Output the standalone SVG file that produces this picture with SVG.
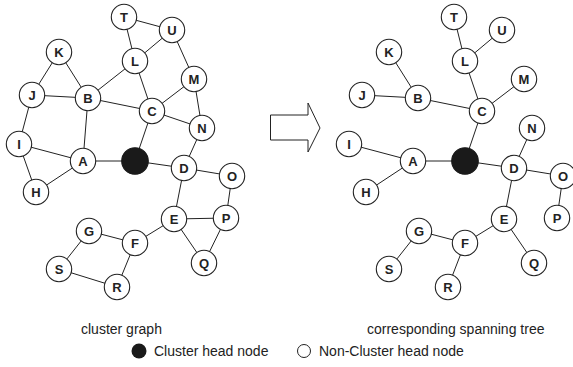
<svg xmlns="http://www.w3.org/2000/svg" width="573" height="367" viewBox="0 0 573 367">
<style>
.e line{stroke:#222;stroke-width:1}
.n circle{fill:#fff;stroke:#222;stroke-width:1.1}
.n circle.h{fill:#1a1a1a;stroke:#1a1a1a}
.n text{font-family:"Liberation Sans",Arial,sans-serif;font-weight:bold;font-size:13px;fill:#222;text-anchor:middle;dominant-baseline:central}
.lbl{font-family:"Liberation Sans",Arial,sans-serif;font-size:14px;fill:#222}
</style>
<rect width="573" height="367" fill="#fff"/>
<g id="edges-left" class="e">
<line x1="124" y1="17" x2="172" y2="30"/>
<line x1="124" y1="17" x2="135" y2="61"/>
<line x1="135" y1="61" x2="172" y2="30"/>
<line x1="172" y1="30" x2="194" y2="79"/>
<line x1="59" y1="52" x2="32" y2="95"/>
<line x1="59" y1="52" x2="88" y2="98"/>
<line x1="32" y1="95" x2="88" y2="98"/>
<line x1="32" y1="95" x2="19" y2="144"/>
<line x1="135" y1="61" x2="88" y2="98"/>
<line x1="135" y1="61" x2="152" y2="111"/>
<line x1="88" y1="98" x2="152" y2="111"/>
<line x1="88" y1="98" x2="83" y2="161"/>
<line x1="152" y1="111" x2="194" y2="79"/>
<line x1="152" y1="111" x2="202" y2="128"/>
<line x1="194" y1="79" x2="202" y2="128"/>
<line x1="152" y1="111" x2="135" y2="161"/>
<line x1="19" y1="144" x2="83" y2="161"/>
<line x1="19" y1="144" x2="36" y2="192"/>
<line x1="36" y1="192" x2="83" y2="161"/>
<line x1="83" y1="161" x2="135" y2="161"/>
<line x1="135" y1="161" x2="184" y2="168"/>
<line x1="202" y1="128" x2="184" y2="168"/>
<line x1="184" y1="168" x2="232" y2="176"/>
<line x1="184" y1="168" x2="174" y2="219"/>
<line x1="232" y1="176" x2="226" y2="218"/>
<line x1="174" y1="219" x2="226" y2="218"/>
<line x1="174" y1="219" x2="204" y2="263"/>
<line x1="226" y1="218" x2="204" y2="263"/>
<line x1="174" y1="219" x2="135" y2="243"/>
<line x1="135" y1="243" x2="89" y2="231"/>
<line x1="89" y1="231" x2="59" y2="269"/>
<line x1="59" y1="269" x2="117" y2="287"/>
<line x1="135" y1="243" x2="117" y2="287"/>
</g>
<g id="edges-right" class="e" transform="translate(330,0)">
<line x1="124" y1="17" x2="135" y2="61"/>
<line x1="135" y1="61" x2="172" y2="30"/>
<line x1="59" y1="52" x2="88" y2="98"/>
<line x1="32" y1="95" x2="88" y2="98"/>
<line x1="135" y1="61" x2="152" y2="111"/>
<line x1="88" y1="98" x2="152" y2="111"/>
<line x1="152" y1="111" x2="194" y2="79"/>
<line x1="152" y1="111" x2="135" y2="161"/>
<line x1="19" y1="144" x2="83" y2="161"/>
<line x1="36" y1="192" x2="83" y2="161"/>
<line x1="83" y1="161" x2="135" y2="161"/>
<line x1="135" y1="161" x2="184" y2="168"/>
<line x1="202" y1="128" x2="184" y2="168"/>
<line x1="184" y1="168" x2="233" y2="176"/>
<line x1="233" y1="176" x2="227" y2="218"/>
<line x1="184" y1="168" x2="174" y2="219"/>
<line x1="174" y1="219" x2="204" y2="263"/>
<line x1="174" y1="219" x2="135" y2="243"/>
<line x1="135" y1="243" x2="89" y2="231"/>
<line x1="89" y1="231" x2="59" y2="269"/>
<line x1="135" y1="243" x2="118" y2="287"/>
</g>
<g id="nodes-left" class="n">
<g id="L-T"><circle cx="124" cy="17" r="12.7"/><text x="124" y="17">T</text></g>
<g id="L-U"><circle cx="172" cy="30" r="12.7"/><text x="172" y="30">U</text></g>
<g id="L-K"><circle cx="59" cy="52" r="12.7"/><text x="59" y="52">K</text></g>
<g id="L-L"><circle cx="135" cy="61" r="12.7"/><text x="135" y="61">L</text></g>
<g id="L-M"><circle cx="194" cy="79" r="12.7"/><text x="194" y="79">M</text></g>
<g id="L-J"><circle cx="32" cy="95" r="12.7"/><text x="32" y="95">J</text></g>
<g id="L-B"><circle cx="88" cy="98" r="12.7"/><text x="88" y="98">B</text></g>
<g id="L-C"><circle cx="152" cy="111" r="12.7"/><text x="152" y="111">C</text></g>
<g id="L-N"><circle cx="202" cy="128" r="12.7"/><text x="202" y="128">N</text></g>
<g id="L-I"><circle cx="19" cy="144" r="12.7"/><text x="19" y="144">I</text></g>
<g id="L-A"><circle cx="83" cy="161" r="12.7"/><text x="83" y="161">A</text></g>
<g id="L-head"><circle class="h" cx="135" cy="161" r="13.3"/></g>
<g id="L-D"><circle cx="184" cy="168" r="12.7"/><text x="184" y="168">D</text></g>
<g id="L-O"><circle cx="232" cy="176" r="12.7"/><text x="232" y="176">O</text></g>
<g id="L-H"><circle cx="36" cy="192" r="12.7"/><text x="36" y="192">H</text></g>
<g id="L-E"><circle cx="174" cy="219" r="12.7"/><text x="174" y="219">E</text></g>
<g id="L-P"><circle cx="226" cy="218" r="12.7"/><text x="226" y="218">P</text></g>
<g id="L-G"><circle cx="89" cy="231" r="12.7"/><text x="89" y="231">G</text></g>
<g id="L-F"><circle cx="135" cy="243" r="12.7"/><text x="135" y="243">F</text></g>
<g id="L-S"><circle cx="59" cy="269" r="12.7"/><text x="59" y="269">S</text></g>
<g id="L-Q"><circle cx="204" cy="263" r="12.7"/><text x="204" y="263">Q</text></g>
<g id="L-R"><circle cx="117" cy="287" r="12.7"/><text x="117" y="287">R</text></g>
</g>
<g id="nodes-right" class="n" transform="translate(330,0)">
<g id="R-T"><circle cx="124" cy="17" r="12.7"/><text x="124" y="17">T</text></g>
<g id="R-U"><circle cx="172" cy="30" r="12.7"/><text x="172" y="30">U</text></g>
<g id="R-K"><circle cx="59" cy="52" r="12.7"/><text x="59" y="52">K</text></g>
<g id="R-L"><circle cx="135" cy="61" r="12.7"/><text x="135" y="61">L</text></g>
<g id="R-M"><circle cx="194" cy="79" r="12.7"/><text x="194" y="79">M</text></g>
<g id="R-J"><circle cx="32" cy="95" r="12.7"/><text x="32" y="95">J</text></g>
<g id="R-B"><circle cx="88" cy="98" r="12.7"/><text x="88" y="98">B</text></g>
<g id="R-C"><circle cx="152" cy="111" r="12.7"/><text x="152" y="111">C</text></g>
<g id="R-N"><circle cx="202" cy="128" r="12.7"/><text x="202" y="128">N</text></g>
<g id="R-I"><circle cx="19" cy="144" r="12.7"/><text x="19" y="144">I</text></g>
<g id="R-A"><circle cx="83" cy="161" r="12.7"/><text x="83" y="161">A</text></g>
<g id="R-head"><circle class="h" cx="135" cy="161" r="13.3"/></g>
<g id="R-D"><circle cx="184" cy="168" r="12.7"/><text x="184" y="168">D</text></g>
<g id="R-O"><circle cx="233" cy="176" r="12.7"/><text x="233" y="176">O</text></g>
<g id="R-H"><circle cx="36" cy="192" r="12.7"/><text x="36" y="192">H</text></g>
<g id="R-E"><circle cx="174" cy="219" r="12.7"/><text x="174" y="219">E</text></g>
<g id="R-P"><circle cx="227" cy="218" r="12.7"/><text x="227" y="218">P</text></g>
<g id="R-G"><circle cx="89" cy="231" r="12.7"/><text x="89" y="231">G</text></g>
<g id="R-F"><circle cx="135" cy="243" r="12.7"/><text x="135" y="243">F</text></g>
<g id="R-S"><circle cx="59" cy="269" r="12.7"/><text x="59" y="269">S</text></g>
<g id="R-Q"><circle cx="204" cy="263" r="12.7"/><text x="204" y="263">Q</text></g>
<g id="R-R"><circle cx="118" cy="287" r="12.7"/><text x="118" y="287">R</text></g>
</g>
<g id="arrow"><polygon points="270.5,115 308,115 308,103 320,128 308,152 308,140 270.5,140" fill="#fff" stroke="#222" stroke-width="1"/></g>
<g id="captions">
<text class="lbl" x="81" y="334">cluster graph</text>
<text class="lbl" x="367" y="334">corresponding spanning tree</text>
</g>
<g id="legend">
<circle cx="139" cy="351" r="7.5" fill="#1a1a1a"/>
<text class="lbl" x="154" y="356">Cluster head node</text>
<circle cx="304" cy="351" r="6.5" fill="#fff" stroke="#222" stroke-width="1"/>
<text class="lbl" x="319" y="356">Non-Cluster head node</text>
</g>
</svg>
